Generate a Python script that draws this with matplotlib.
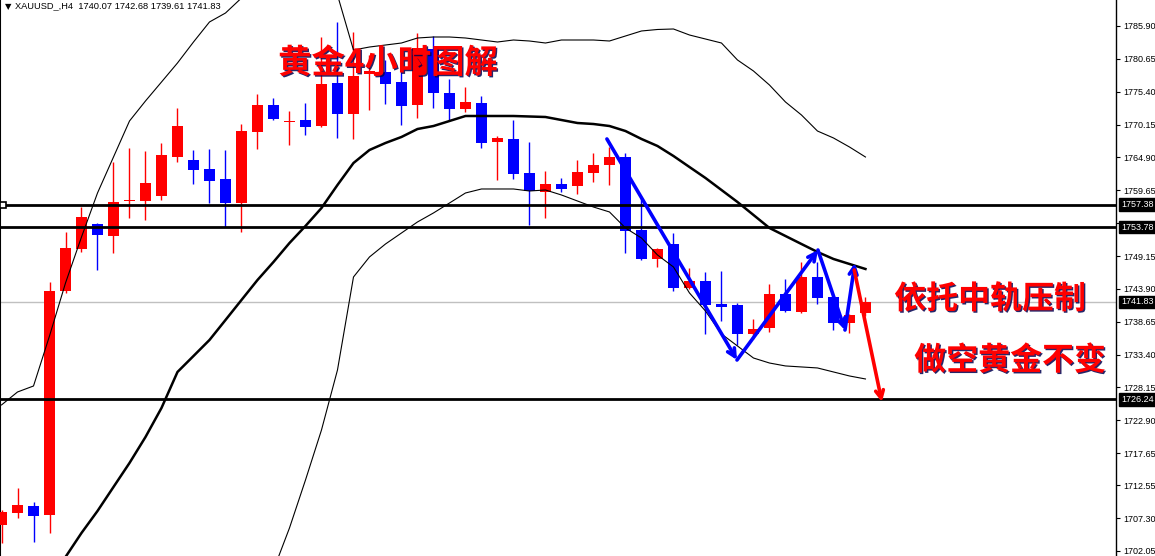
import numpy as np
import matplotlib
matplotlib.use('Agg')
import matplotlib.pyplot as plt
import matplotlib.patheffects as pe
from matplotlib.transforms import blended_transform_factory

plt.rcParams['font.family'] = ['Liberation Sans', 'DejaVu Sans']

# XAUUSD H4 candles (red = up, blue = down)
opens = [1706.19, 1708.15, 1709.22, 1707.78, 1743.57, 1750.32, 1754.27, 1752.40, 1757.94, 1757.99,
         1758.74, 1765.02, 1764.49, 1763.05, 1761.46, 1757.57, 1769.01, 1773.28, 1770.56, 1770.88,
         1769.92, 1776.84, 1771.84, 1778.18, 1778.55, 1776.95, 1773.28, 1782.22, 1775.24, 1772.69,
         1773.60, 1767.41, 1767.85, 1762.41, 1759.43, 1760.66, 1760.34, 1762.41, 1763.74, 1764.92,
         1753.31, 1748.68, 1751.07, 1744.09, 1745.16, 1741.49, 1741.33, 1736.70, 1737.66, 1743.13,
         1740.16, 1745.80, 1742.61, 1738.41, 1740.07]
highs = [1708.58, 1712.05, 1709.91, 1745.05, 1753.04, 1757.03, 1754.48, 1764.17, 1766.41, 1765.98,
         1767.21, 1772.80, 1766.09, 1766.25, 1766.09, 1770.24, 1775.03, 1774.40, 1772.32, 1773.55,
         1784.19, 1786.54, 1784.94, 1781.26, 1780.47, 1779.99, 1784.83, 1784.30, 1777.38, 1776.20,
         1774.71, 1768.33, 1770.88, 1767.37, 1762.78, 1761.62, 1764.49, 1765.61, 1766.62, 1765.56,
         1758.58, 1750.43, 1752.88, 1747.29, 1746.55, 1746.76, 1741.65, 1739.09, 1744.68, 1745.48,
         1748.15, 1748.20, 1742.61, 1739.89, 1742.68]
lows = [1703.36, 1707.26, 1703.52, 1704.96, 1743.29, 1749.84, 1746.92, 1749.59, 1755.27, 1754.91,
        1758.10, 1764.22, 1760.66, 1757.57, 1753.84, 1753.04, 1766.25, 1770.88, 1766.89, 1768.49,
        1769.81, 1768.05, 1767.80, 1772.48, 1773.44, 1770.08, 1771.25, 1772.85, 1770.88, 1772.16,
        1766.33, 1761.22, 1761.46, 1754.11, 1755.27, 1759.38, 1759.06, 1760.98, 1760.50, 1749.68,
        1748.52, 1747.35, 1743.61, 1743.96, 1736.65, 1738.77, 1734.94, 1735.90, 1737.06, 1740.21,
        1740.05, 1741.44, 1737.34, 1736.86, 1739.61]
closes = [1708.31, 1709.38, 1707.67, 1743.57, 1750.43, 1755.39, 1752.51, 1757.78, 1758.10, 1760.82,
          1765.29, 1769.92, 1762.89, 1761.19, 1757.57, 1769.12, 1773.28, 1771.04, 1770.72, 1769.81,
          1776.63, 1771.84, 1777.91, 1778.71, 1776.68, 1773.17, 1782.38, 1775.15, 1772.64, 1773.76,
          1767.26, 1768.01, 1762.26, 1759.59, 1760.66, 1759.86, 1762.57, 1763.69, 1764.92, 1753.20,
          1748.68, 1750.27, 1744.09, 1745.16, 1741.33, 1741.06, 1736.70, 1737.50, 1743.13, 1740.37,
          1745.85, 1742.50, 1738.41, 1739.73, 1741.83]

# Bollinger bands
bb_upper = [1725.36, 1727.43, 1728.39, 1736.38, 1744.84, 1752.19, 1759.22, 1764.97, 1770.72, 1773.92,
            1776.95, 1779.99, 1783.34, 1786.54, 1787.97, 1790.37, 1794.84, 1796.44, 1797.24, 1796.44,
            1794.04, 1790.85, 1782.06, 1782.54, 1782.86, 1783.18, 1783.98, 1784.14, 1784.14, 1783.98,
            1783.66, 1783.34, 1783.66, 1783.50, 1783.18, 1783.66, 1783.66, 1783.66, 1783.50, 1784.30,
            1785.10, 1785.34, 1785.42, 1784.46, 1783.82, 1783.18, 1780.47, 1778.71, 1776.47, 1773.76,
            1771.68, 1769.12, 1768.01, 1766.57, 1764.97]
bb_mid = [1687.82, 1691.01, 1694.21, 1697.40, 1701.07, 1704.91, 1708.42, 1712.26, 1716.09, 1720.24,
          1724.88, 1730.63, 1733.18, 1735.74, 1738.93, 1742.13, 1745.32, 1748.20, 1751.23, 1753.95,
          1756.82, 1760.50, 1764.01, 1766.09, 1767.21, 1768.17, 1769.44, 1769.92, 1770.72, 1771.52,
          1771.52, 1771.52, 1771.52, 1771.44, 1771.36, 1770.88, 1770.40, 1770.24, 1769.92, 1769.12,
          1767.85, 1766.73, 1765.13, 1763.37, 1761.62, 1759.70, 1757.78, 1755.71, 1753.63, 1752.35,
          1751.07, 1749.80, 1748.68, 1747.88, 1747.08]
bb_lower = [1650.28, 1654.59, 1660.02, 1658.43, 1657.30, 1657.62, 1657.62, 1659.54, 1661.46, 1666.57,
            1672.80, 1681.27, 1683.02, 1684.94, 1689.89, 1693.89, 1695.80, 1699.00, 1705.71, 1713.37,
            1721.36, 1730.95, 1745.80, 1749.00, 1751.07, 1752.83, 1754.59, 1756.03, 1757.62, 1759.22,
            1759.86, 1759.86, 1759.86, 1759.54, 1759.70, 1758.90, 1757.94, 1756.98, 1756.19, 1753.63,
            1752.03, 1749.32, 1747.40, 1743.25, 1740.37, 1736.70, 1734.78, 1732.86, 1732.06, 1731.59,
            1731.43, 1731.27, 1730.63, 1729.99, 1729.51]

tick_vals = [1785.90, 1780.65, 1775.40, 1770.15, 1764.90, 1759.65, 1754.40, 1749.15, 1743.90,
             1738.65, 1733.40, 1728.15, 1722.90, 1717.65, 1712.55, 1707.30, 1702.05]
levels = [1757.38, 1753.78, 1726.24]
last_price = 1741.83

# hand drawn zigzag (bar index, price)
zig_x = [37.84, 45.97, 51.03, 52.72, 53.34]
zig_y = [1767.85, 1732.54, 1750.11, 1737.33, 1748.04]
red_x = [53.30, 55.03]
red_y = [1746.92, 1725.83]

fig = plt.figure(figsize=(11.55, 5.56), dpi=100)
ax = fig.add_axes([0, 0, 1116 / 1155, 1])

x = np.arange(len(opens))
o = np.array(opens); c = np.array(closes)
cols = np.where(c >= o, '#FF0000', '#0000FF')
ax.vlines(x, lows, highs, colors=cols, lw=1.0, zorder=2)
body_h = np.maximum(np.abs(c - o), 0.17)
ax.bar(x, body_h, bottom=np.minimum(o, c), width=0.7, color=cols, zorder=3, linewidth=0)

# bands
ax.plot(x, bb_upper, color='black', lw=0.8, zorder=4)
ax.plot(x, bb_lower, color='black', lw=0.8, zorder=4)
ax.plot(x, bb_mid, color='black', lw=1.8, zorder=4)

# levels
ax.axhline(last_price, color='#C0C0C0', lw=1.0, zorder=1)
for lv in levels:
    ax.axhline(lv, color='black', lw=2.0, zorder=5)
ax.plot(0.12, levels[0], marker='s', ms=4.5, mfc='white', mec='black', mew=1.2, zorder=6, clip_on=False)

# arrows
for i in range(len(zig_x) - 1):
    ax.annotate('', xy=(zig_x[i + 1], zig_y[i + 1]), xytext=(zig_x[i], zig_y[i]),
                arrowprops=dict(arrowstyle='->', color='#0000FF', lw=2.6, shrinkA=0, shrinkB=0,
                                mutation_scale=14), zorder=7)
ax.annotate('', xy=(red_x[1], red_y[1]), xytext=(red_x[0], red_y[0]),
            arrowprops=dict(arrowstyle='->', color='#FF0000', lw=2.6, shrinkA=0, shrinkB=0,
                            mutation_scale=14), zorder=7)

# chinese notes
fx = [pe.withSimplePatchShadow(offset=(1, -1), shadow_rgbFace='#000050', alpha=0.85)]
cjk = ['Noto Sans CJK SC', 'DejaVu Sans']
ax.text(24.16, 1779.9, '黄金4小时图解', color='#FF0000', fontsize=24, fontweight='bold',
        family=cjk, ha='center', va='center', path_effects=fx, zorder=8)
ax.text(61.8, 1742.2, '依托中轨压制', color='#FF0000', fontsize=23, fontweight='bold',
        family=cjk, ha='center', va='center', path_effects=fx, zorder=8)
ax.text(63.05, 1732.4, '做空黄金不变', color='#FF0000', fontsize=23, fontweight='bold',
        family=cjk, ha='center', va='center', path_effects=fx, zorder=8)

ax.set_xlim(-0.094, 69.66)
ax.set_ylim(1701.23, 1790.05)

ax.yaxis.tick_right()
ax.set_yticks(tick_vals)
ax.set_yticklabels([f'{v:.2f}' for v in tick_vals])
ax.tick_params(axis='y', direction='out', length=3, width=0.8, pad=2, labelsize=6.5,
               right=True, left=False, labelright=True, labelleft=False)
ax.set_xticks([])
for s in ['top', 'bottom']:
    ax.spines[s].set_visible(False)
ax.spines['right'].set_linewidth(1.0)
ax.spines['left'].set_linewidth(1.5)

# price boxes on the axis
tr = blended_transform_factory(ax.transAxes, ax.transData)
for lv in levels + [last_price]:
    ax.text(1.0045, lv, f'{lv:.2f}', transform=tr, ha='left', va='center', color='white',
            fontsize=6.5, clip_on=False, zorder=10,
            bbox=dict(boxstyle='square,pad=0.2', fc='black', ec='black'))

# header
fig.text(5 / 1155, 1 - 7 / 556, '\u25bc', fontsize=6, va='center', ha='left', family='DejaVu Sans')
fig.text(15 / 1155, 1 - 6 / 556, 'XAUUSD_,H4  1740.07 1742.68 1739.61 1741.83', fontsize=6.7,
         va='center', ha='left')

fig.savefig('out.png', dpi=100)
